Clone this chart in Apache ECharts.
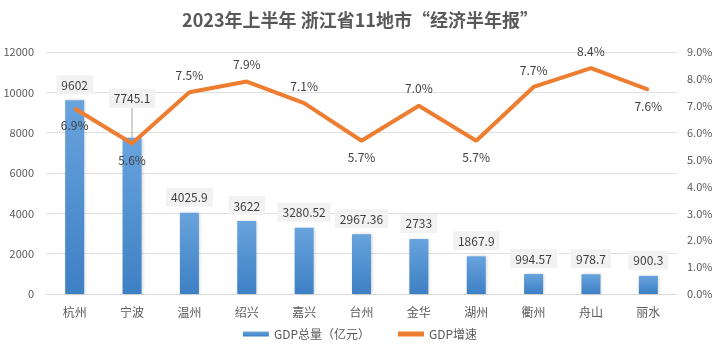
<!DOCTYPE html>
<html>
<head>
<meta charset="utf-8">
<script src="https://cdn.jsdelivr.net/npm/echarts@6/dist/echarts.min.js"></script>
<style>
  html, body { margin: 0; padding: 0; background: #fff; }
  #chart { width: 720px; height: 354px; }
</style>
</head>
<body>
<div id="chart"></div>
<script>
const cities = ["杭州", "宁波", "温州", "绍兴", "嘉兴", "台州", "金华", "湖州", "衢州", "舟山", "丽水"];
const gdpTotal = [9602, 7745.1, 4025.9, 3622, 3280.52, 2967.36, 2733, 1867.9, 994.57, 978.7, 900.3];
const gdpGrowth = [6.9, 5.6, 7.5, 7.9, 7.1, 5.7, 7.0, 5.7, 7.7, 8.4, 7.6];
// which growth labels sit under the line
const growthLabelBelow = [0, 1, 5, 7, 10];
// bar label pushed up (with a leader line) to clear the line
const liftedBarLabel = 1;

const font = "'Noto Sans CJK SC', sans-serif";
const chart = echarts.init(document.getElementById("chart"));

const option = {
  animation: false,
  textStyle: { fontFamily: font },
  title: {
    text: "2023年上半年 浙江省11地市“经济半年报”",
    left: "center",
    top: 6,
    textStyle: { color: "#595959", fontSize: 18, fontWeight: "bold", fontFamily: font }
  },
  grid: { left: 46, right: 43, top: 52, bottom: 60 },
  legend: {
    bottom: 9,
    left: "center",
    itemGap: 28,
    itemWidth: 26,
    itemHeight: 5,
    textStyle: { color: "#595959", fontSize: 12 },
    data: [
      { name: "GDP总量（亿元）", icon: "rect" },
      { name: "GDP增速", icon: "rect" }
    ]
  },
  xAxis: {
    type: "category",
    data: cities,
    axisLine: { lineStyle: { color: "#d9d9d9" } },
    axisTick: { show: false },
    axisLabel: { color: "#595959", fontSize: 12, margin: 12 }
  },
  yAxis: [
    {
      type: "value",
      min: 0,
      max: 12000,
      interval: 2000,
      axisLine: { show: false },
      axisTick: { show: false },
      axisLabel: { color: "#595959", fontSize: 11, margin: 12, formatter: v => String(v) },
      splitLine: { lineStyle: { color: "#e0e0e0" } }
    },
    {
      type: "value",
      min: 0,
      max: 9,
      interval: 1,
      axisLine: { show: false },
      axisTick: { show: false },
      splitLine: { show: false },
      axisLabel: {
        color: "#595959",
        fontSize: 11,
        margin: 10,
        formatter: v => v.toFixed(1) + "%"
      }
    }
  ],
  series: [
    {
      name: "GDP总量（亿元）",
      type: "bar",
      data: gdpTotal.map((v, i) => i === liftedBarLabel
        ? { value: v, labelLine: { show: true, lineStyle: { color: "#a6a6a6", width: 1 } } }
        : v),
      barWidth: 19,
      itemStyle: {
        color: new echarts.graphic.LinearGradient(0, 0, 0, 1, [
          { offset: 0, color: "#68a3dd" },
          { offset: 1, color: "#3d80c4" }
        ]),
        shadowColor: "rgba(0,0,0,0.2)",
        shadowBlur: 3,
        shadowOffsetX: 1
      },
      label: {
        show: true,
        position: "top",
        distance: 6,
        color: "#404040",
        fontSize: 12,
        backgroundColor: "#f2f2f2",
        padding: [4, 5, 3, 5]
      },
      labelLayout: function (params) {
        if (params.dataIndex === liftedBarLabel) return { dy: -24 };
        return {};
      },
      labelLine: { show: false },
      z: 2
    },
    {
      name: "GDP增速",
      type: "line",
      yAxisIndex: 1,
      data: gdpGrowth.map((v, i) => ({
        value: v,
        label: { position: growthLabelBelow.includes(i) ? "bottom" : "top" }
      })),
      symbol: "circle",
      symbolSize: 2,
      showSymbol: true,
      lineStyle: { color: "#ed7d31", width: 4 },
      itemStyle: { color: "#ed7d31" },
      label: {
        show: true,
        distance: 10,
        color: "#404040",
        fontSize: 12,
        formatter: p => p.value.toFixed(1) + "%"
      },
      z: 3
    }
  ]
};

chart.setOption(option);
</script>
</body>
</html>
